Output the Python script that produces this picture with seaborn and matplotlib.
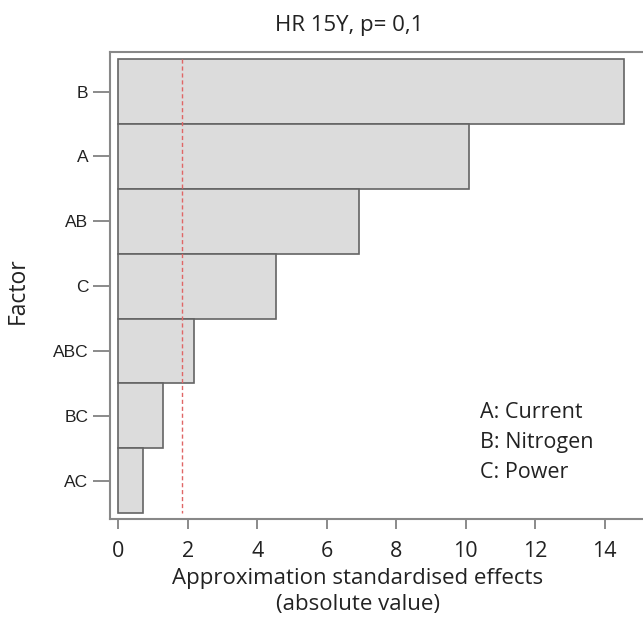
import matplotlib
matplotlib.use("Agg")
import matplotlib.pyplot as plt
import seaborn as sns
import pandas as pd

factors = ["B", "A", "AB", "C", "ABC", "BC", "AC"]
effects = [14.55, 10.09, 6.93, 4.55, 2.19, 1.29, 0.72]
threshold = 1.84
legend_lines = ["A: Current", "B: Nitrogen", "C: Power"]
title = "HR 15Y, p= 0,1"
xticks = [0, 2, 4, 6, 8, 10, 12, 14]

sns.set_style("white")
plt.rcParams["font.family"] = ["Open Sans", "DejaVu Sans"]

df = pd.DataFrame({"factor": factors, "effect": effects})

fig = plt.figure(figsize=(6.43, 6.18), dpi=100)
ax = fig.add_axes([110/643, 1 - 519/618, 1 - 110/643, (519 - 52)/618])

sns.barplot(data=df, x="effect", y="factor", orient="h", order=factors,
            color="#dcdcdc", saturation=1, width=1.0,
            edgecolor="#646464", linewidth=1.2, ax=ax)

ax.plot([threshold, threshold], [-0.5, 6.5], color="#e06666",
        linestyle=(0, (3, 2)), linewidth=1.0)

ax.set_xlim(-0.24, 15.1)
ax.set_ylim(6.5 + 0.09, -0.5 - 0.11)
ax.set_xticks(xticks)
ax.set_xticklabels([str(t) for t in xticks], fontsize=15.5, color="#222222")
for lab in ax.get_yticklabels():
    lab.set_fontfamily(["Liberation Sans", "DejaVu Sans"])
    lab.set_fontsize(12.5)
    lab.set_color("#222222")

ax.tick_params(axis="y", direction="out", length=12.5, width=1.2, color="#777777", pad=3, left=True)
ax.tick_params(axis="x", direction="out", length=7, width=1.2, color="#777777", pad=8.5, bottom=True)

for s in ["left", "bottom", "top"]:
    ax.spines[s].set_visible(True)
    ax.spines[s].set_color("#888888")
    ax.spines[s].set_linewidth(1.5)
ax.spines["right"].set_visible(False)

ax.set_xlabel("Approximation standardised effects\n(absolute value)",
              fontsize=16, color="#222222", linespacing=1.3)
ax.xaxis.set_label_coords((358 - 110) / 533, -(568 - 519) / 467)
ax.xaxis.label.set_va("top")
ax.set_ylabel("Factor", fontsize=16.5, color="#222222")
ax.yaxis.set_label_coords((30 - 110) / 533, (519 - 291) / 467)
ax.set_title(title, fontsize=16, color="#222222", x=(349 - 110) / 533, pad=15)

for i, t in enumerate(legend_lines):
    ax.text(480 / 643, 1 - (412 + 30.5 * i) / 618, t, transform=fig.transFigure,
            fontsize=15.5, color="#222222", va="center", ha="left")

fig.savefig("out.png", dpi=100)
